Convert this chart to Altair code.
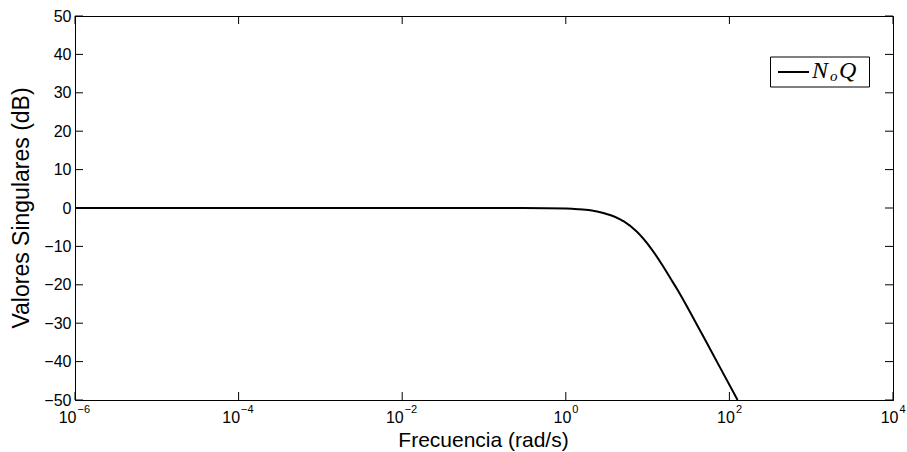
import altair as alt
import pandas as pd

# ---- data ----
freq = [1e-6, 0.1, 0.3, 1.0, 1.41, 2.0, 2.88, 3.55, 4.68, 5.13, 7.41, 11.0, 15.8, 19.0, 22.9, 30.2, 38.0, 49.0, 77.6, 125.9]
db = [0.0, 0.0, -0.02, -0.15, -0.3, -0.6, -1.3, -1.9, -3.0, -3.5, -6.2, -10.5, -15.5, -18.3, -21.1, -25.6, -29.5, -33.8, -41.7, -50.0]

x_ticks = [1e-6, 1e-4, 1e-2, 1e0, 1e2, 1e4]
x_exps = ["\u22126", "\u22124", "\u22122", "0", "2", "4"]
y_ticks = [-50, -40, -30, -20, -10, 0, 10, 20, 30, 40, 50]

W, H = 818, 384
FONT = "Liberation Sans"

curve = pd.DataFrame({"w": freq, "db": db})
xt = pd.DataFrame({"w": x_ticks, "e": x_exps, "neg": [e.startswith("\u2212") for e in x_exps]})
yt = pd.DataFrame({"db": y_ticks})
one = pd.DataFrame({"a": [0]})

xscale = alt.Scale(type="log", domain=[1e-6, 1e4], nice=False)
yscale = alt.Scale(domain=[-50, 50], nice=False, zero=False)

xaxis = alt.Axis(title="Frecuencia (rad/s)", labels=False, ticks=False, grid=False,
                 domainColor="black", domainWidth=1,
                 titleFont=FONT, titleFontSize=21, titleFontWeight="normal", titleColor="black",
                 titleX=408, titleY=46.5, titleBaseline="alphabetic")
yaxis = alt.Axis(title="Valores Singulares (dB)", values=y_ticks, ticks=False, grid=False,
                 domainColor="black", domainWidth=1,
                 labelFont=FONT, labelFontSize=16, labelColor="black", labelPadding=4,
                 titleFont=FONT, titleFontSize=23, titleFontWeight="normal", titleColor="black",
                 titleX=-47, titleY=191.5, titleAngle=-90, titleBaseline="alphabetic")

X = lambda: alt.X("w:Q", scale=xscale, axis=xaxis)
Y = lambda: alt.Y("db:Q", scale=yscale, axis=yaxis)

line = alt.Chart(curve).mark_line(color="black", strokeWidth=2, interpolate="monotone").encode(x=X(), y=Y())

TL = 8
left_ticks = alt.Chart(yt).mark_rule(color="black", strokeWidth=1).encode(
    y=Y(), x=alt.value(0), x2=alt.value(TL))
right_ticks = alt.Chart(yt).mark_rule(color="black", strokeWidth=1).encode(
    y=Y(), x=alt.value(W - TL), x2=alt.value(W))
bottom_ticks = alt.Chart(xt).mark_rule(color="black", strokeWidth=1).encode(
    x=X(), y=alt.value(H), y2=alt.value(H - TL))
top_ticks = alt.Chart(xt).mark_rule(color="black", strokeWidth=1).encode(
    x=X(), y=alt.value(0), y2=alt.value(TL))

def base_lbl(neg, dx):
    return alt.Chart(xt).transform_filter(f"datum.neg == {str(neg).lower()}").mark_text(
        text="10", font=FONT, fontSize=16, color="black", align="right", baseline="alphabetic", dx=dx
    ).encode(x=X(), y=alt.value(H + 23))

def exp_lbl(neg, dx):
    return alt.Chart(xt).transform_filter(f"datum.neg == {str(neg).lower()}").mark_text(
        font=FONT, fontSize=11, color="black", align="left", baseline="alphabetic", dx=dx
    ).encode(x=X(), y=alt.value(H + 13), text="e:N")

labels = [base_lbl(True, 1.5), exp_lbl(True, 2.5), base_lbl(False, 5.5), exp_lbl(False, 6.5)]

# legend
leg_box = alt.Chart(one).mark_rect(fill="white", stroke="black", strokeWidth=1).encode(
    x=alt.value(695.5), x2=alt.value(794.5), y=alt.value(41), y2=alt.value(71))
leg_line = alt.Chart(one).mark_rule(color="black", strokeWidth=2).encode(
    x=alt.value(703), x2=alt.value(734), y=alt.value(56))
SERIF = "Liberation Serif"
leg_n = alt.Chart(one).mark_text(text="N", font=SERIF, fontStyle="italic", fontSize=24, color="black",
                                 align="left", baseline="alphabetic").encode(x=alt.value(737), y=alt.value(62))
leg_o = alt.Chart(one).mark_text(text="o", font=SERIF, fontStyle="italic", fontSize=15, color="black",
                                 align="left", baseline="alphabetic").encode(x=alt.value(755), y=alt.value(65))
leg_q = alt.Chart(one).mark_text(text="Q", font=SERIF, fontStyle="italic", fontSize=24, color="black",
                                 align="left", baseline="alphabetic").encode(x=alt.value(764), y=alt.value(62))

chart = alt.layer(
    line, left_ticks, right_ticks, bottom_ticks, top_ticks, *labels,
    leg_box, leg_line, leg_n, leg_o, leg_q
).properties(
    width=W, height=H,
    autosize=alt.AutoSizeParams(type="none"),
    padding={"left": 75, "top": 16, "right": 14, "bottom": 52},
    background="white",
).configure_view(stroke="black", strokeWidth=1)

chart.save("out.html", embed_options={"renderer": "svg", "actions": False})
